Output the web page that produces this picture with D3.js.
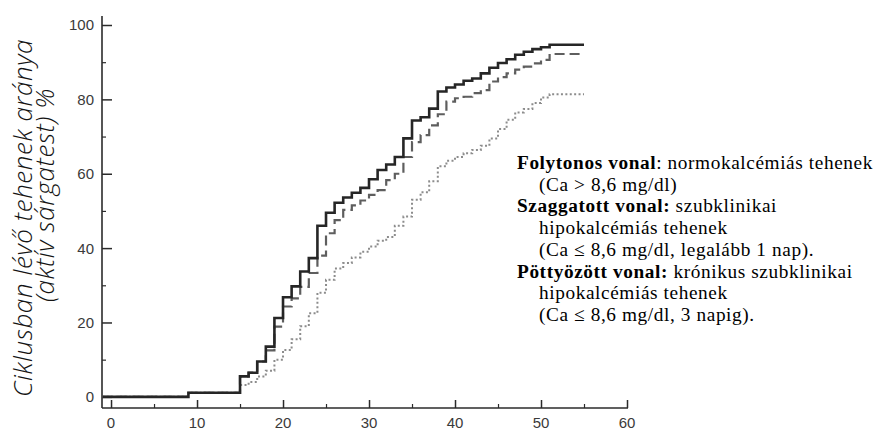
<!DOCTYPE html>
<html>
<head>
<meta charset="utf-8">
<script src="https://cdn.jsdelivr.net/npm/d3@7/dist/d3.min.js"></script>
<style>
  html, body { margin: 0; padding: 0; background: #fff; }
  svg { display: block; }
</style>
</head>
<body>
<svg id="chart" width="886" height="430"></svg>
<script>
// ---- data ----
const days = [-1, 9, 15, 16, 17, 18, 19, 20, 21, 22, 23, 24, 25, 26, 27, 28, 29, 30,
  31, 32, 33, 34, 35, 36, 37, 38, 39, 40, 41, 42, 43, 44, 45, 46, 47, 48, 49, 50, 51, 55];

const solidValues = [0, 1.1, 5.5, 6.5, 9.5, 13.5, 21.2, 26.8, 29.7, 33.7, 37.3, 46, 49.5,
  52.2, 53.6, 54.9, 56.2, 58.5, 61, 62.5, 64.5, 69.5, 74.3, 75.2, 77.5, 82.1, 83.2, 84,
  85, 85.6, 87, 88.5, 89.8, 90.8, 92, 92.8, 93.5, 94, 94.7, 94.7];

const dashedValues = [0, 1.1, 5.5, 6.5, 9.5, 12.5, 18.9, 24.3, 26.5, 29.6, 33.3, 38, 44,
  47.5, 50.3, 51.5, 52.8, 54.3, 55.6, 58.3, 60, 64.5, 68.5, 70.4, 73, 76, 79.4, 80.3,
  80.7, 81.7, 82.5, 84.8, 86, 87, 88, 88.8, 89.7, 90.6, 92.2, 92.2];

const dottedValues = [0, 1.1, 3.2, 4, 5.5, 7, 10, 12.6, 15.5, 19, 22.5, 28, 31.5, 34.5,
  36, 37.5, 39, 40.4, 42, 43, 46, 48.5, 53, 55, 58, 62, 63.5, 64.5, 65.5, 66.4, 67.5,
  69.5, 72, 74.5, 76.5, 77.4, 79, 80.5, 81.4, 81.4];

const xTicksMajor = [0, 10, 20, 30, 40, 50, 60];
const xTicksMinor = [5, 15, 25, 35, 45, 55];
const yTicksMajor = [0, 20, 40, 60, 80, 100];
const yTicksMinor = [10, 30, 50, 70, 90];

const yTitleLines = ["Ciklusban lévő tehenek aránya", "(aktív sárgatest) %"];

const legendLines = [
  { bold: "Folytonos vonal", text: ": normokalcémiás tehenek", indent: false },
  { bold: "", text: "(Ca > 8,6 mg/dl)", indent: true },
  { bold: "Szaggatott vonal:", text: " szubklinikai", indent: false },
  { bold: "", text: "hipokalcémiás tehenek", indent: true },
  { bold: "", text: "(Ca ≤ 8,6 mg/dl, legalább 1 nap).", indent: true },
  { bold: "Pöttyözött vonal:", text: " krónikus szubklinikai", indent: false },
  { bold: "", text: "hipokalcémiás tehenek", indent: true },
  { bold: "", text: "(Ca ≤ 8,6 mg/dl, 3 napig).", indent: true }
];

// ---- drawing ----
const svg = d3.select("#chart");
const x = d3.scaleLinear().domain([-1.05, 60]).range([102, 627]);
const y = d3.scaleLinear().domain([-3, 100]).range([408, 25]);

const axisColor = "#2b2b2b";
const tickFont = "'Liberation Sans', Arial, Helvetica, sans-serif";

// axes lines
svg.append("line").attr("x1", x(-1.05)).attr("x2", x(-1.05))
  .attr("y1", 16).attr("y2", y(-3))
  .attr("stroke", axisColor).attr("stroke-width", 1.6);
svg.append("line").attr("x1", x(-1.05)).attr("x2", x(60) + 1)
  .attr("y1", y(-3)).attr("y2", y(-3))
  .attr("stroke", axisColor).attr("stroke-width", 1.6);

// x axis ticks (pointing up, inward)
const xAxisMajor = d3.axisTop(x).tickValues(xTicksMajor).tickSize(8).tickFormat("");
const gx = svg.append("g").attr("transform", `translate(0,${y(-3)})`).call(xAxisMajor);
gx.select(".domain").remove();
gx.selectAll("line").attr("stroke", axisColor).attr("stroke-width", 1.5);
const xAxisMinor = d3.axisTop(x).tickValues(xTicksMinor).tickSize(4).tickFormat("");
const gx2 = svg.append("g").attr("transform", `translate(0,${y(-3)})`).call(xAxisMinor);
gx2.select(".domain").remove();
gx2.selectAll("line").attr("stroke", axisColor).attr("stroke-width", 1.2);

svg.append("g").selectAll("text").data(xTicksMajor).join("text")
  .attr("x", d => x(d)).attr("y", 428)
  .attr("text-anchor", "middle")
  .attr("font-family", tickFont).attr("font-size", 15)
  .attr("fill", "#3a3a3a")
  .text(d => d);

// y axis ticks (pointing right, inward)
const yAxisMajor = d3.axisRight(y).tickValues(yTicksMajor).tickSize(10).tickFormat("");
const gy = svg.append("g").attr("transform", `translate(${x(-1.05)},0)`).call(yAxisMajor);
gy.select(".domain").remove();
gy.selectAll("line").attr("stroke", axisColor).attr("stroke-width", 1.5);
const yAxisMinor = d3.axisRight(y).tickValues(yTicksMinor).tickSize(4).tickFormat("");
const gy2 = svg.append("g").attr("transform", `translate(${x(-1.05)},0)`).call(yAxisMinor);
gy2.select(".domain").remove();
gy2.selectAll("line").attr("stroke", axisColor).attr("stroke-width", 1.2);

svg.append("g").selectAll("text").data(yTicksMajor).join("text")
  .attr("x", 94).attr("y", d => y(d))
  .attr("dy", "0.36em")
  .attr("text-anchor", "end")
  .attr("font-family", tickFont).attr("font-size", 15)
  .attr("fill", "#3a3a3a")
  .text(d => d);

// y-axis title
const titleFont = "'Open Sans', 'Noto Sans', Lato, sans-serif";
const titlePos = [{ bx: 32, cy: 218 }, { bx: 54, cy: 195 }];
yTitleLines.forEach((t, i) => {
  svg.append("text")
    .attr("transform", `translate(${titlePos[i].bx},${titlePos[i].cy}) rotate(-90)`)
    .attr("text-anchor", "middle")
    .attr("font-family", titleFont)
    .attr("font-style", "italic")
    .attr("font-weight", 300)
    .attr("font-size", 26)
    .attr("letter-spacing", 0.6)
    .attr("fill", "#141414")
    .text(t);
});

// curves
const line = (vals) => d3.line()
  .x((d, i) => x(days[i]))
  .y(d => y(d))
  .curve(d3.curveStepAfter)(vals);

svg.append("path").attr("d", line(dottedValues))
  .attr("fill", "none").attr("stroke", "#8c8c8c").attr("stroke-width", 2)
  .attr("stroke-dasharray", "2,2.4");
svg.append("path").attr("d", line(dashedValues))
  .attr("fill", "none").attr("stroke", "#5e5e5e").attr("stroke-width", 2.2)
  .attr("stroke-dasharray", "10,5");
svg.append("path").attr("d", line(solidValues))
  .attr("fill", "none").attr("stroke", "#262626").attr("stroke-width", 2.6);

// legend
const legendFont = "'Liberation Serif', 'Times New Roman', Times, serif";
const lg = svg.append("g");
legendLines.forEach((l, i) => {
  const t = lg.append("text")
    .attr("x", l.indent ? 539 : 517)
    .attr("y", 169 + i * 21.7)
    .attr("font-family", legendFont)
    .attr("font-size", 19.3)
    .attr("letter-spacing", 0.6)
    .attr("fill", "#000");
  if (l.bold) t.append("tspan").attr("font-weight", "bold").text(l.bold);
  t.append("tspan").text(l.text);
});
</script>
</body>
</html>
